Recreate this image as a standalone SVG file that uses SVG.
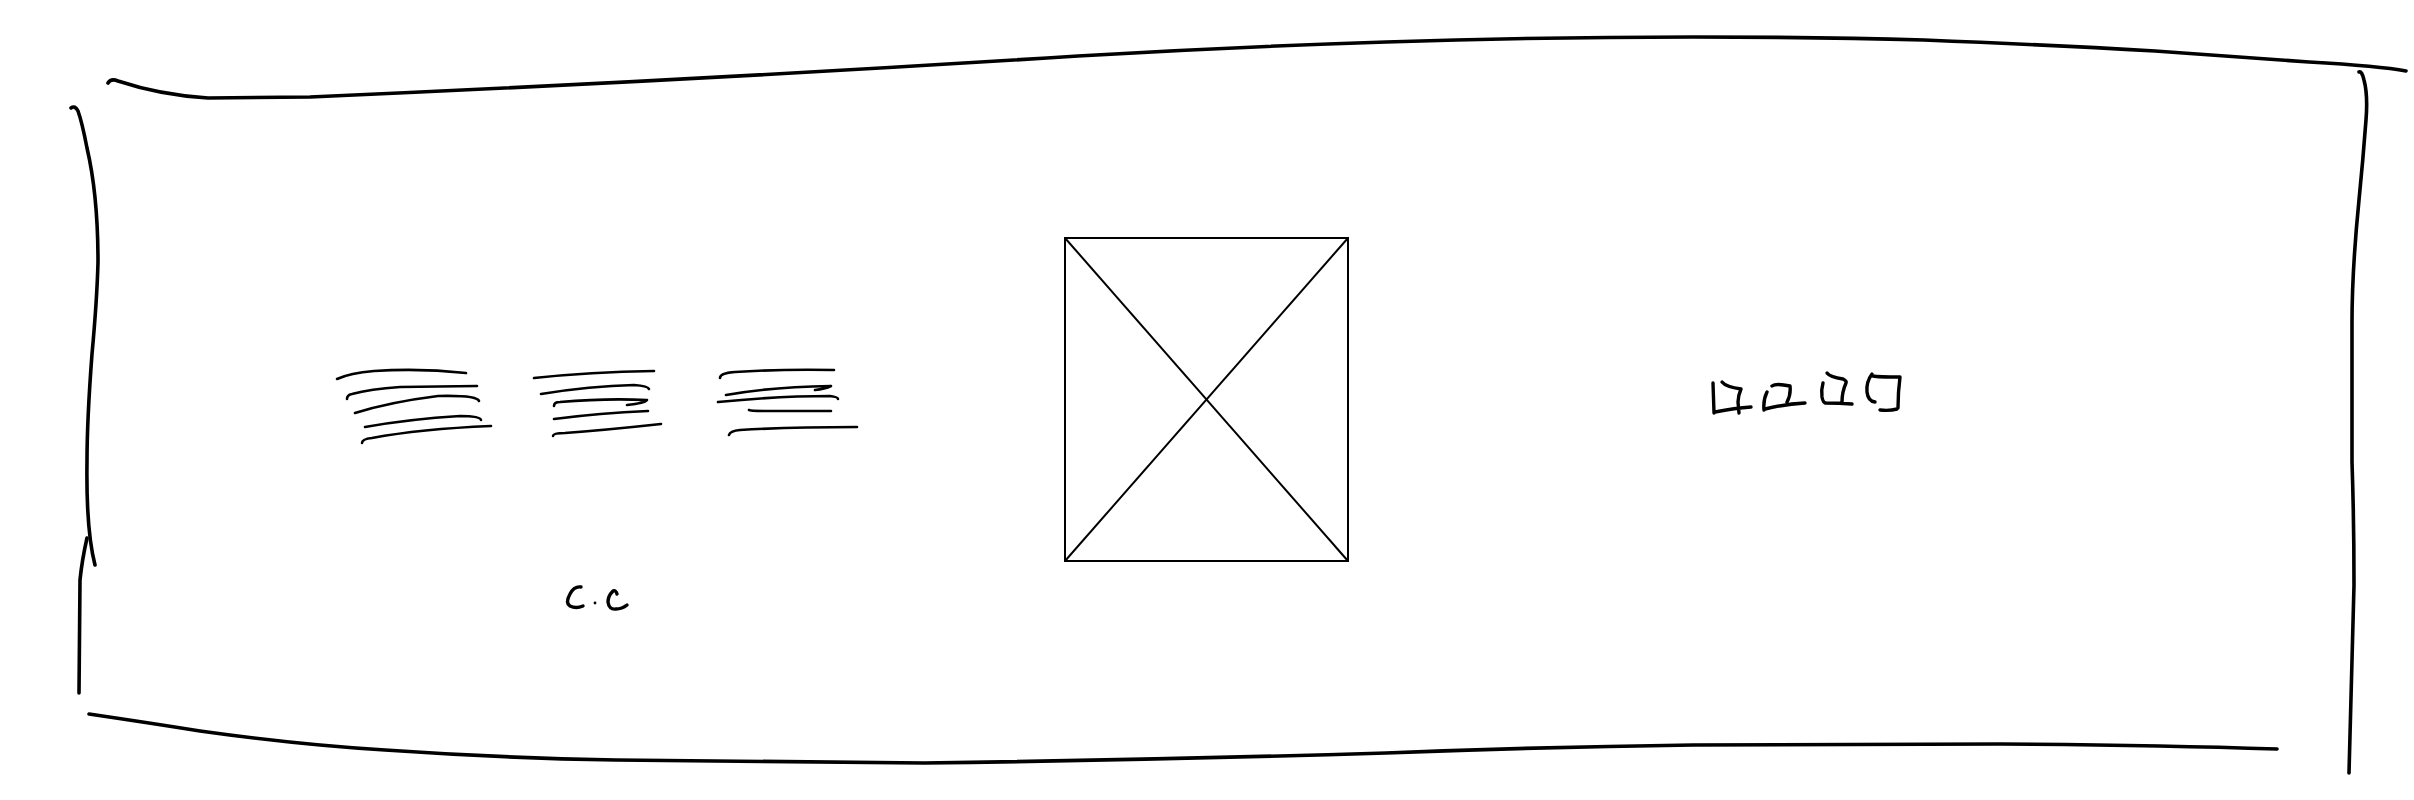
<svg xmlns="http://www.w3.org/2000/svg" width="2414" height="800" viewBox="0 0 2414 800">
<style>
.b{fill:none;stroke:#000;stroke-width:3.6;stroke-linecap:round;stroke-linejoin:round}
.s{fill:none;stroke:#000;stroke-width:2.6;stroke-linecap:round;stroke-linejoin:round}
.k{fill:none;stroke:#000;stroke-width:3.4;stroke-linecap:round;stroke-linejoin:round}
.r{fill:none;stroke:#000;stroke-width:2}
</style>
<rect width="2414" height="800" fill="#fff"/>
<g id="frame">
<path class="b" d="M108,83 Q111,78 118,81 Q160,95 208,98 L310,97 Q700,80 1078,56 Q1230,47 1386,42 Q1540,37 1693,37 Q1820,37 1924,40 Q2050,45 2155,51 Q2240,57 2309,62 Q2380,66 2406,71"/>
<path class="b" d="M71,108 Q75,105 78,111 Q82,122 87,148 Q98,195 98,262 Q97,300 92,354 Q87,420 87,462 Q86,530 95,565"/>
<path class="b" d="M87,538 Q82,560 80,580 L79,693"/>
<path class="b" d="M89,714 Q150,723 200,731 Q300,745 385,750 Q500,758 616,760 L924,763 Q1150,760 1386,753 Q1540,747 1693,745 L2001,744 Q2150,745 2277,749"/>
<path class="b" d="M2359,72 Q2362,71 2364,80 Q2368,95 2366,120 Q2363,160 2359,200 Q2352,270 2352,323 L2352,462 Q2354,520 2354,585 Q2351,700 2349,773"/>
</g>
<g id="text-lines-1">
<path class="s" d="M337,379 Q350,373 374,371 Q420,368 466,373"/>
<path class="s" d="M347,399 Q347,395 352,394 Q370,389 400,387 L477,386"/>
<path class="s" d="M355,413 Q390,402 438,396 Q477,395 479,401"/>
<path class="s" d="M365,427 Q410,419 460,416 Q480,416 481,420"/>
<path class="s" d="M362,443 Q362,439 372,438 Q420,429 491,426"/>
</g>
<g id="text-lines-2">
<path class="s" d="M534,378 Q590,372 654,371"/>
<path class="s" d="M541,394 Q590,386 634,385 Q648,386 649,389"/>
<path class="s" d="M554,406 Q554,402 560,402 Q606,398 647,400 Q645,403 627,405"/>
<path class="s" d="M554,419 Q600,413 648,411"/>
<path class="s" d="M553,436 Q553,433 565,433 Q606,430 661,424"/>
</g>
<g id="text-lines-3">
<path class="s" d="M720,378 Q720,373 735,372 Q780,369 834,370"/>
<path class="s" d="M726,395 Q770,387 831,386 Q825,389 815,390"/>
<path class="s" d="M718,402 Q780,396 830,396 Q838,397 838,399"/>
<path class="s" d="M749,410 Q750,411 765,411 L831,411"/>
<path class="s" d="M729,435 Q730,431 740,430 Q790,427 857,427"/>
</g>
<g id="caption">
<path class="k" d="M581,587 Q574,586 570,594 Q565,603 570,606 Q576,609 583,606"/>
<circle cx="595" cy="603" r="1.4" fill="#000"/>
<path class="k" d="M613,591 Q616,590 617,594 M613,591 Q608,596 608,602 Q609,610 616,609 Q622,609 627,605"/>
</g>
<g id="image-placeholder">
<rect class="r" x="1065" y="238" width="283" height="323"/>
<line class="r" x1="1065" y1="238" x2="1348" y2="561"/>
<line class="r" x1="1348" y1="238" x2="1065" y2="561"/>
</g>
<g id="label-squares">
<path class="k" d="M1713,383 L1714,413 M1715,412 Q1735,408 1751,407 M1722,382 Q1726,387 1741,389 Q1738,396 1738,402 L1739,413"/>
<path class="k" d="M1767,392 Q1763,400 1764,410 M1765,409 Q1785,404 1805,403 M1772,386 Q1776,383 1790,386 Q1791,395 1787,402"/>
<path class="k" d="M1823,383 Q1821,390 1822,397 Q1823,403 1826,403 M1825,403 Q1840,403 1852,404 M1827,373 Q1830,377 1843,379 Q1847,381 1846,383 Q1842,392 1842,402"/>
<path class="k" d="M1872,374 Q1866,382 1867,392 Q1868,401 1875,402 M1873,376 Q1878,377 1900,377 Q1898,392 1898,408 M1880,410 Q1890,411 1897,409"/>
</g>
</svg>
